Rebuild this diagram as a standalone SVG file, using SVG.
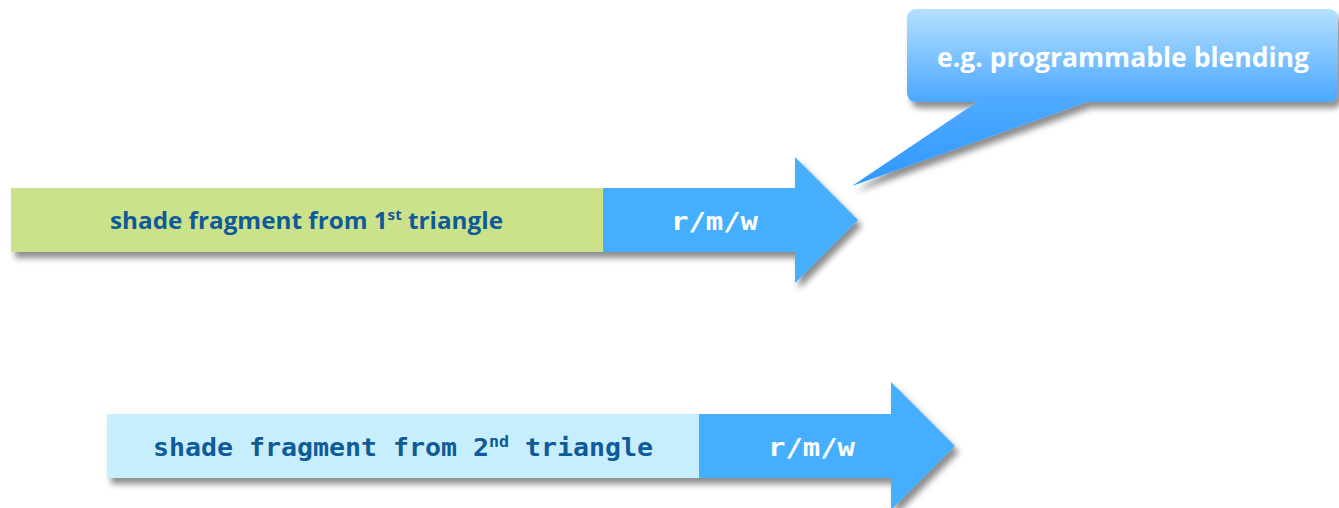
<svg xmlns="http://www.w3.org/2000/svg" width="1339" height="508" viewBox="0 0 1339 508">
<defs>
<filter id="sh" x="-10%" y="-30%" width="130%" height="180%">
<feDropShadow dx="4" dy="6" stdDeviation="3" flood-color="#000" flood-opacity="0.45"/>
</filter>
<linearGradient id="cg" gradientUnits="userSpaceOnUse" x1="0" y1="9" x2="0" y2="186">
<stop offset="0" stop-color="#b5e0ff"/>
<stop offset="0.5" stop-color="#4faaff"/>
<stop offset="1" stop-color="#2f98ff"/>
</linearGradient>
<style>
.lbl{font-family:"Open Sans","Liberation Sans",sans-serif;font-weight:bold;fill:#0f5a98}
.mono{font-family:"DejaVu Sans Mono","Liberation Mono",monospace;font-weight:bold}
.w{fill:#ffffff}
.b{fill:#0f5a98}
</style>
</defs>
<g id="connectors"></g>
<g id="arrow1" filter="url(#sh)">
<rect x="11" y="188" width="592" height="64" fill="#cce28a"/>
<polygon points="603,188 795,188 795,157 858,220 795,283 795,252 603,252" fill="#45aeff"/>
</g>
<g id="arrow1-text">
<text class="lbl" x="110" y="229" font-size="24" textLength="393" lengthAdjust="spacingAndGlyphs">shade fragment from 1<tspan font-size="15" dy="-9">st</tspan><tspan dy="9"> triangle</tspan></text>
<text class="mono w" x="671" y="230" font-size="25" textLength="87" lengthAdjust="spacingAndGlyphs">r/m/w</text>
</g>
<g id="arrow2" filter="url(#sh)">
<rect x="107" y="414" width="592" height="64" fill="#c7eefc"/>
<polygon points="699,414 891,414 891,382 955,446 891,510 891,478 699,478" fill="#45aeff"/>
</g>
<g id="arrow2-text">
<text class="mono b" x="153" y="456" font-size="24" textLength="500" lengthAdjust="spacingAndGlyphs">shade fragment from 2<tspan font-size="15" dy="-9">nd</tspan><tspan dy="9"> triangle</tspan></text>
<text class="mono w" x="768" y="456" font-size="25" textLength="87" lengthAdjust="spacingAndGlyphs">r/m/w</text>
</g>
<g id="callout" filter="url(#sh)">
<path d="M917,9 H1328 Q1338,9 1338,19 V92 Q1338,102 1328,102 H1087 L852,186 L977,102 H917 Q907,102 907,92 V19 Q907,9 917,9 Z" fill="url(#cg)"/>
</g>
<g id="callout-text">
<text class="lbl w" x="937" y="67" font-size="26" textLength="372" lengthAdjust="spacingAndGlyphs" style="fill:#ffffff">e.g. programmable blending</text>
</g>
</svg>
